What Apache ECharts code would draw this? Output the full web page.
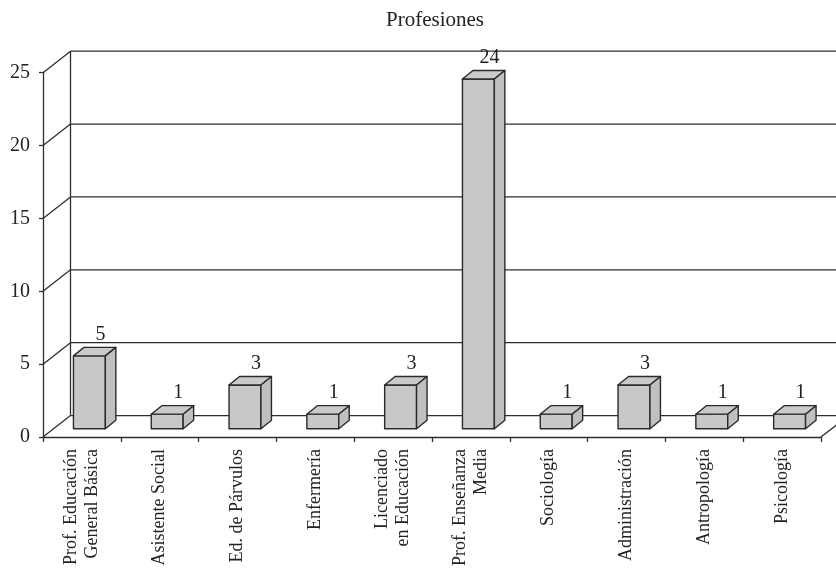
<!DOCTYPE html>
<html>
<head>
<meta charset="utf-8">
<script src="https://cdn.jsdelivr.net/npm/echarts@6/dist/echarts.min.js"></script>
<style>
    html, body { margin: 0; padding: 0; background: #fff; }
    #barChart { width: 836px; height: 569px; }
</style>
</head>
<body>
<div id="barChart"></div>
<script>
// categories (x axis, two-line labels where the original wraps)
const categories = [
    'Prof. Educación\nGeneral Básica',
    'Asistente Social',
    'Ed. de Párvulos',
    'Enfermería',
    'Licenciado\nen Educación',
    'Prof. Enseñanza\nMedia',
    'Sociología',
    'Administración',
    'Antropología',
    'Psicología'
];
// number of people per profession
const values = [5, 1, 3, 1, 3, 24, 1, 3, 1, 1];
// y axis ticks
const yTicks = [0, 5, 10, 15, 20, 25];

// ──────────────────────────────
// colours / 3d look
// ──────────────────────────────
const lineColor = '#2e2e2e';
const barFront = '#c7c8ca';
const barTop = '#c9cacc';
const barSide = '#bfc0c2';
const fontFam = '"Liberation Serif", "DejaVu Serif", serif';

const wallDx = 27.5;   // back wall offset
const wallDy = -21.5;
const barDx = 10.5;    // bar depth
const barDy = -8.5;
const barShiftX = 7.5; // bar front face sits a bit inside the floor
const barShiftY = -8.3;

const chartDom = document.getElementById('barChart');
const chart = echarts.init(chartDom);

// back wall: one item per y tick
const renderWall = (params, api) => {
    const cs = params.coordSys;
    const t = api.value(1);
    const front = api.coord([0, t]);
    const fx = cs.x;
    const fy = front[1];
    const bx = fx + wallDx;
    const by = fy + wallDy;
    const rightX = cs.x + cs.width + wallDx;
    const style = { stroke: lineColor, lineWidth: 1.3 };
    const children = [
        { type: 'line', shape: { x1: fx, y1: fy, x2: bx, y2: by }, style: style },
        { type: 'line', shape: { x1: bx, y1: by, x2: rightX + 5, y2: by }, style: style }
    ];
    if (t === 0) {
        // right edge of the floor
        const rx = cs.x + cs.width;
        children.push({ type: 'line', shape: { x1: rx, y1: fy, x2: rx + wallDx, y2: fy + wallDy }, style: style });
    }
    if (t === yTicks[yTicks.length - 1]) {
        // left edge of the back wall
        const y0 = api.coord([0, 0])[1] + wallDy;
        children.push({ type: 'line', shape: { x1: bx, y1: by, x2: bx, y2: y0 }, style: style });
    }
    return { type: 'group', children: children };
};

// 3d bars
const renderBar = (params, api) => {
    const idx = api.value(0);
    const v = api.value(1);
    const p0 = api.coord([idx, 0]);
    const p1 = api.coord([idx, v]);
    const band = api.size([1, 0])[0];
    const w = band * 0.41;
    const fx = p0[0] + barShiftX - w / 2;
    const fb = p0[1] + barShiftY;
    const ft = p1[1] + barShiftY;
    const stroke = { stroke: '#2a2a2a', lineWidth: 1.4, lineJoin: 'round' };
    return {
        type: 'group',
        children: [
            {
                type: 'polygon',
                shape: { points: [[fx, fb], [fx + w, fb], [fx + w, ft], [fx, ft]] },
                style: Object.assign({ fill: barFront }, stroke)
            },
            {
                type: 'polygon',
                shape: { points: [[fx, ft], [fx + w, ft], [fx + w + barDx, ft + barDy], [fx + barDx, ft + barDy]] },
                style: Object.assign({ fill: barTop }, stroke)
            },
            {
                type: 'polygon',
                shape: { points: [[fx + w, fb], [fx + w + barDx, fb + barDy], [fx + w + barDx, ft + barDy], [fx + w, ft]] },
                style: Object.assign({ fill: barSide }, stroke)
            },
            {
                type: 'text',
                style: {
                    x: fx + w / 2 + 11,
                    y: ft + barDy - 13,
                    text: String(v),
                    fill: '#222',
                    font: '20px ' + fontFam,
                    align: 'center',
                    verticalAlign: 'middle'
                }
            }
        ]
    };
};

const option = {
    animation: false,
    title: {
        text: 'Profesiones',
        left: 386,
        top: 10,
        padding: 0,
        textStyle: {
            fontFamily: fontFam,
            fontSize: 21,
            fontWeight: 'normal',
            color: '#222'
        }
    },
    grid: {
        left: 43,
        right: 15,
        top: 72.7,
        bottom: 130.7,
        containLabel: false
    },
    xAxis: {
        type: 'category',
        data: categories,
        boundaryGap: true,
        axisLine: { show: true, lineStyle: { color: lineColor, width: 1.3 } },
        axisTick: { show: true, length: 5, lineStyle: { color: lineColor, width: 1.3 } },
        axisLabel: {
            interval: 0,
            rotate: 90,
            margin: 12,
            fontFamily: fontFam,
            fontSize: 18,
            lineHeight: 21,
            color: '#222'
        },
        splitLine: { show: false }
    },
    yAxis: {
        type: 'value',
        min: yTicks[0],
        max: yTicks[yTicks.length - 1],
        interval: 5,
        axisLine: { show: true, lineStyle: { color: lineColor, width: 1.3 } },
        axisTick: { show: true, length: 4, lineStyle: { color: lineColor, width: 1.3 } },
        axisLabel: {
            margin: 13,
            fontFamily: fontFam,
            fontSize: 20,
            color: '#222'
        },
        splitLine: { show: false }
    },
    series: [
        {
            name: 'wall',
            type: 'custom',
            renderItem: renderWall,
            data: yTicks.map(t => [0, t]),
            encode: { x: 0, y: 1 },
            silent: true,
            z: 1
        },
        {
            name: 'Profesiones',
            type: 'custom',
            renderItem: renderBar,
            data: values.map((v, i) => [i, v]),
            encode: { x: 0, y: 1 },
            z: 2
        }
    ]
};

chart.setOption(option);
</script>
</body>
</html>
